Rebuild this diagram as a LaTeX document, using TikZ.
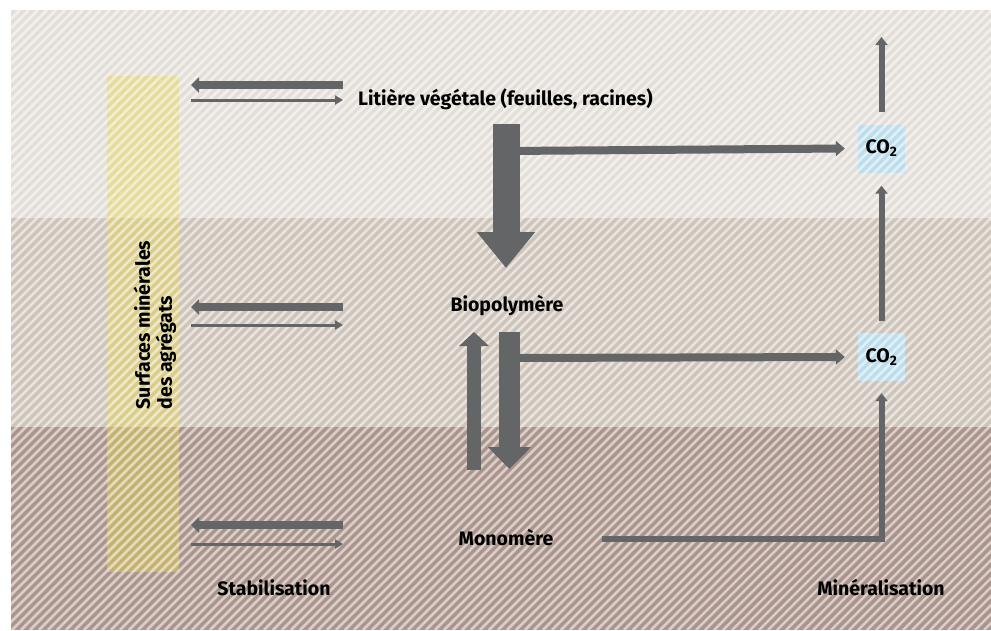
\documentclass[tikz,border=0pt]{standalone}
\usepackage{fontspec}
\setmainfont{Fira Sans}
\usetikzlibrary{arrows.meta}
\definecolor{bandA}{RGB}{227,222,215}
\definecolor{bandB}{RGB}{206,196,185}
\definecolor{bandC}{RGB}{171,148,139}
\definecolor{ylw}{RGB}{232,216,80}
\definecolor{coblue}{RGB}{188,222,236}
\definecolor{arr}{RGB}{100,101,103}
\begin{document}
\begin{tikzpicture}[x=1pt,y=-1pt,
  lbl/.style={font=\bfseries\fontsize{19.5}{22}\selectfont, text=black, inner sep=0pt},
  cobox/.style={fill=coblue, minimum width=47pt, minimum height=48pt, inner sep=0pt},
  thickarr/.style={draw=arr, line width=7.5pt, -{Triangle[width=15pt,length=8pt]}},
  thinarr/.style={draw=arr, line width=3pt, -{Triangle[width=9pt,length=8pt]}},
  flowarr/.style={draw=arr, line width=8pt, -{Triangle[width=15pt,length=9pt]}},
  co2arr/.style={draw=arr, line width=6pt, line join=miter, -{Triangle[width=12pt,length=8pt]}},
]
\useasboundingbox (0,0) rectangle (991,630);
% bands
\fill[bandA] (11,10) rectangle (991,218);
\fill[bandB] (11,218) rectangle (991,427);
\fill[bandC] (11,427) rectangle (991,630);
% yellow column
\node[fill=ylw, fill opacity=0.45, minimum width=72pt, minimum height=496pt, inner sep=0pt] (surf) at (143,324) {};
% CO2 boxes
\node[cobox] (cotop) at (881.5,148.5) {};
\node[cobox] (colow) at (881.5,357) {};
% stripes
\begin{scope}
\clip (11,10) rectangle (991,630);
\foreach \k in {0,...,180} {
  \draw[white, opacity=0.55, line width=2.5pt] ({-609+9*\k},630) -- ({11+9*\k},10);
}
\end{scope}
\node[lbl] at (cotop) {CO\textsubscript{2}};
\node[lbl] at (colow) {CO\textsubscript{2}};
% texts
\node[lbl, anchor=west] (lit) at (358,99) {Litière végétale (feuilles, racines)};
\node[lbl] (bio) at (507,306) {Biopolymère};
\node[lbl] (mono) at (506,538) {Monomère};
\node[lbl] (stab) at (274,588) {Stabilisation};
\node[lbl] (mine) at (881,588) {Minéralisation};
\node[lbl, rotate=90, align=left] (surftxt) at (155,325) {Surfaces minérales\\des agrégats};
% coordinates
\coordinate (s1r) at (343,85); \coordinate (s1l) at (191,85);
\coordinate (t1l) at (191,100); \coordinate (t1r) at (343,100);
\coordinate (s2r) at (343,307); \coordinate (s2l) at (191,307);
\coordinate (t2l) at (191,325); \coordinate (t2r) at (343,325);
\coordinate (s3r) at (343,525); \coordinate (s3l) at (191,525);
\coordinate (t3l) at (191,544); \coordinate (t3r) at (343,544);
\coordinate (bigtop) at (506,124); \coordinate (bigtip) at (506,268);
\coordinate (h1) at (506,151);
\coordinate (dtop) at (509.5,332); \coordinate (dtip) at (509.5,469);
\coordinate (h2) at (509.5,358);
\coordinate (ubot) at (474,470); \coordinate (utip) at (474,332);
\coordinate (monoend) at (602,539);
\coordinate (sky) at (881.5,37);
% stabilisation arrows
\draw[thickarr] (s1r) -- (s1l);
\draw[thinarr] (t1l) -- (t1r);
\draw[thickarr] (s2r) -- (s2l);
\draw[thinarr] (t2l) -- (t2r);
\draw[thickarr] (s3r) -- (s3l);
\draw[thinarr] (t3l) -- (t3r);
% main flow
\draw[draw=arr, line width=27pt, -{Triangle[width=56pt,length=36pt]}] (bigtop) -- (bigtip);
\draw[flowarr] (h1) -- ([xshift=-13pt]cotop.west);
\draw[draw=arr, line width=21pt, -{Triangle[width=42pt,length=22pt]}] (dtop) -- (dtip);
\draw[draw=arr, line width=14pt, -{Triangle[width=29pt,length=14pt]}] (ubot) -- (utip);
\draw[flowarr] (h2) -- ([xshift=-13pt]colow.west);
% CO2 arrows
\draw[co2arr] ([yshift=12pt]cotop.north) -- (sky);
\draw[co2arr] ([yshift=12pt]colow.north) -- ([yshift=-13pt]cotop.south);
\draw[co2arr] (monoend) -| ([yshift=-12pt]colow.south);
\end{tikzpicture}
\end{document}
